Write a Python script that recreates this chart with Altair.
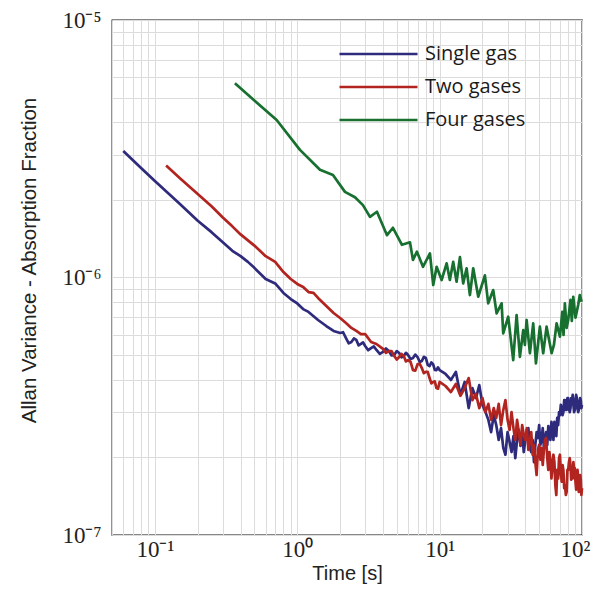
import altair as alt
import pandas as pd

# ---- data ----
t_single = [0.06, 0.08, 0.1, 0.15, 0.2, 0.25, 0.3, 0.35, 0.4, 0.45, 0.5, 0.6, 0.7, 0.8, 0.9,
            1.0, 1.1, 1.2, 1.4, 1.6, 1.8, 2.0, 2.1, 2.2, 2.3, 2.4, 2.5, 2.6, 2.7, 2.8, 2.9,
            3.0, 3.15, 3.3, 3.45, 3.6, 3.8, 4.0, 4.2, 4.4, 4.6, 4.8, 5.0, 5.2, 5.4, 5.6, 5.8,
            6.0, 6.25, 6.5, 6.75, 7.0, 7.25, 7.5, 7.75, 8.0, 8.25, 8.5, 8.75, 9.0, 9.25, 9.5,
            9.75]
v_single = [3.10e-6, 2.66e-6, 2.37e-6, 1.93e-6, 1.66e-6, 1.50e-6, 1.37e-6, 1.27e-6, 1.21e-6,
            1.15e-6, 1.09e-6, 9.87e-7, 9.48e-7, 8.71e-7, 8.25e-7, 7.93e-7, 7.54e-7, 7.35e-7,
            6.84e-7, 6.48e-7, 6.20e-7, 6.09e-7, 6.13e-7, 5.82e-7, 5.55e-7, 5.62e-7, 5.80e-7,
            5.72e-7, 5.45e-7, 5.52e-7, 5.60e-7, 5.42e-7, 5.22e-7, 5.32e-7, 5.40e-7, 5.23e-7,
            5.05e-7, 5.14e-7, 5.30e-7, 5.18e-7, 4.98e-7, 5.00e-7, 5.18e-7, 5.09e-7, 4.90e-7,
            4.96e-7, 5.10e-7, 5.00e-7, 4.82e-7, 4.87e-7, 5.02e-7, 4.91e-7, 4.70e-7, 4.74e-7,
            4.92e-7, 4.87e-7, 4.58e-7, 4.53e-7, 4.68e-7, 4.61e-7, 4.38e-7, 4.37e-7, 4.48e-7]
# one-second steps from 10 s to 100 s
v_single_tail = [4.37, 4.22, 4.00, 4.30, 3.50, 3.93, 3.11, 3.72, 3.40, 3.82,
                 3.20, 3.00, 2.80, 2.51, 2.92, 2.67, 2.34, 2.60, 2.18, 2.05,
                 2.51, 2.30, 2.10, 2.42, 1.99, 2.34, 2.56, 2.22, 2.51, 2.10,
                 2.34, 2.56, 2.60, 2.18, 2.10, 2.34, 1.92, 2.24, 2.51, 2.38,
                 2.67, 2.24, 2.34, 2.60, 2.18, 2.38, 2.51, 2.24, 2.65, 2.45,
                 2.34, 2.75, 2.60, 2.34, 2.75, 2.56, 2.42, 2.85, 2.67, 3.00,
                 2.92, 3.20, 3.11, 2.92, 3.00, 3.34, 3.34, 3.06, 3.06, 3.40,
                 3.40, 3.11, 3.00, 3.11, 3.40, 3.28, 3.50, 3.20, 3.00, 3.06,
                 3.34, 3.50, 3.40, 3.11, 3.00, 3.06, 3.28, 3.40, 3.34, 3.11,
                 3.20]  # x 1e-7

t_two = [0.12, 0.15, 0.2, 0.25, 0.3, 0.35, 0.4, 0.5, 0.6, 0.7, 0.8, 0.9, 1.0, 1.1, 1.2, 1.3,
         1.4, 1.6, 1.8, 2.0, 2.2, 2.4, 2.6, 2.8, 3.0, 3.3, 3.6, 4.0, 4.2, 4.4, 4.6, 4.8, 5.0,
         5.2, 5.4, 5.6, 5.8, 6.0, 6.25, 6.5, 6.75, 7.0, 7.25, 7.5, 7.75, 8.0, 8.25, 8.5,
         8.75, 9.0, 9.25, 9.5, 9.75]
v_two = [2.72e-6, 2.43e-6, 2.11e-6, 1.89e-6, 1.71e-6, 1.58e-6, 1.47e-6, 1.33e-6, 1.21e-6,
         1.15e-6, 1.05e-6, 9.87e-7, 9.44e-7, 9.19e-7, 8.78e-7, 8.71e-7, 8.33e-7, 7.75e-7,
         7.28e-7, 6.96e-7, 6.66e-7, 6.37e-7, 6.20e-7, 6.03e-7, 6.03e-7, 5.62e-7, 5.52e-7,
         5.28e-7, 5.10e-7, 5.18e-7, 5.18e-7, 4.96e-7, 4.80e-7, 4.91e-7, 5.05e-7, 4.96e-7,
         4.72e-7, 4.78e-7, 4.70e-7, 4.37e-7, 4.35e-7, 4.61e-7, 4.62e-7, 4.45e-7, 4.25e-7,
         4.30e-7, 4.30e-7, 4.07e-7, 3.88e-7, 3.93e-7, 3.95e-7, 3.72e-7, 3.70e-7]
v_two_tail = [3.93, 3.79, 3.59, 3.86, 3.47, 3.72, 4.07, 3.34, 3.53, 3.11,
              3.40, 3.00, 3.23, 2.80, 3.11, 2.85, 3.23, 2.67, 3.06, 3.34,
              2.80, 2.56, 3.00, 2.60, 2.34, 2.80, 2.51, 2.24, 2.67, 2.45,
              2.34, 2.60, 2.14, 2.34, 2.51, 2.05, 2.24, 1.92, 1.71, 2.14,
              2.24, 1.96, 2.18, 1.87, 2.14, 2.34, 2.38, 1.99, 1.79, 2.10,
              1.96, 1.66, 1.82, 2.05, 1.92, 1.56, 1.43, 1.79, 1.66, 1.99,
              2.05, 1.76, 1.61, 1.87, 1.79, 1.52, 1.56, 1.43, 1.47, 1.79,
              1.79, 1.92, 1.99, 1.87, 1.64, 1.76, 1.66, 1.92, 1.79, 1.82,
              1.61, 1.50, 1.56, 1.79, 1.66, 1.47, 1.56, 1.71, 1.64, 1.43,
              1.52]  # x 1e-7
t_tail = list(range(10, 101))

t_four = [0.365, 0.5, 0.717, 1.045, 1.444, 1.782, 2.164, 2.544, 2.894, 3.242, 3.63, 4.27,
          4.70, 5.44, 6.19, 6.50, 6.93, 7.64, 8.55, 9.02, 9.53, 10.33, 11.2, 11.8, 12.46,
          13.16, 13.89, 14.64, 15.47, 16.32, 17.22, 18.67, 20.8, 21.94, 23.79, 25.13, 27.25,
          27.97, 30.32, 32.87, 34.73, 36.64, 38.65, 39.7, 40.83, 43.06, 45.43, 47.47, 50.6,
          53.4, 56.4, 61.2, 63.5, 66.3, 70.0, 72.7, 74.2, 75.8, 78.0, 80.0, 83.0, 84.8, 86.8,
          90.0, 94.0, 96.5, 99.4]
v_four = [5.68e-6, 4.87e-6, 4.09e-6, 3.13e-6, 2.62e-6, 2.50e-6, 2.15e-6, 2.05e-6, 1.91e-6,
          1.72e-6, 1.80e-6, 1.46e-6, 1.56e-6, 1.34e-6, 1.37e-6, 1.17e-6, 1.26e-6, 1.10e-6,
          1.24e-6, 9.35e-7, 1.10e-6, 9.78e-7, 1.135e-6, 9.78e-7, 1.15e-6, 9.63e-7, 1.20e-6,
          9.49e-7, 1.086e-6, 8.55e-7, 1.086e-6, 8.42e-7, 1.02e-6, 7.94e-7, 8.94e-7, 7.26e-7,
          7.94e-7, 6.07e-7, 7.04e-7, 4.78e-7, 7.15e-7, 4.92e-7, 6.25e-7, 5.47e-7, 6.84e-7,
          5.08e-7, 6.64e-7, 4.64e-7, 6.44e-7, 5.08e-7, 6.44e-7, 5.08e-7, 5.47e-7, 6.64e-7,
          5.89e-7, 7.36e-7, 5.98e-7, 7.94e-7, 6.37e-7, 6.84e-7, 8.18e-7, 6.78e-7, 8.42e-7,
          6.98e-7, 7.82e-7, 8.55e-7, 8.05e-7]

series_names = ["Single gas", "Two gases", "Four gases"]
series_colors = ["#2e2a7c", "#b2241f", "#17702f"]

x_ticks = [0.05, 0.06, 0.07, 0.08, 0.09,
           0.1, 0.2, 0.3, 0.4, 0.5, 0.6, 0.7, 0.8, 0.9,
           1, 2, 3, 4, 5, 6, 7, 8, 9,
           10, 20, 30, 40, 50, 60, 70, 80, 90, 100]
y_ticks = [1e-7, 2e-7, 3e-7, 4e-7, 5e-7, 6e-7, 7e-7, 8e-7, 9e-7,
           1e-6, 2e-6, 3e-6, 4e-6, 5e-6, 6e-6, 7e-6, 8e-6, 9e-6, 1e-5]

rows = []
series_data = [
    (series_names[0], t_single + t_tail, v_single + [v * 1e-7 for v in v_single_tail]),
    (series_names[1], t_two + t_tail, v_two + [v * 1e-7 for v in v_two_tail]),
    (series_names[2], t_four, v_four),
]
for name, ts, vs in series_data:
    for t, v in zip(ts, vs):
        rows.append({"time": t, "value": v, "series": name})
df = pd.DataFrame(rows)

E = "round(log(datum.value)/LN10)"
POW = f"abs(log(datum.value)/LN10 - {E}) > 0.001"
x_label = (f"{POW} ? '' : ({E} == -1 ? '10⁻¹' : {E} == 0 ? '10⁰' : "
           f"{E} == 1 ? '10¹' : '10²')")
y_label = (f"{POW} ? '' : ({E} == -7 ? '10⁻⁷' : {E} == -6 ? '10⁻⁶' : '10⁻⁵')")

grid_color = "#dcdcdc"

chart = alt.Chart(df).mark_line(strokeWidth=2.7, strokeJoin="round").encode(
    x=alt.X("time:Q",
            scale=alt.Scale(type="log", domain=[0.05, 100], nice=False),
            axis=alt.Axis(values=x_ticks, labelExpr=x_label, grid=True,
                          gridColor=grid_color, gridWidth=1, ticks=False, domain=False,
                          labelFont="Liberation Serif", labelFontSize=23,
                          labelColor="#222222", labelPadding=3, labelFlush=True,
                          labelFlushOffset=8,
                          labelOverlap=False, title="Time [s]",
                          titleFont="Liberation Sans", titleFontSize=20,
                          titleFontWeight="normal", titleColor="#222222",
                          titleY=28, titleBaseline="top")),
    y=alt.Y("value:Q",
            scale=alt.Scale(type="log", domain=[1e-7, 1e-5], nice=False),
            axis=alt.Axis(values=y_ticks, labelExpr=y_label, grid=True,
                          gridColor=grid_color, gridWidth=1, ticks=False, domain=False,
                          labelFont="Liberation Serif", labelFontSize=23,
                          labelColor="#222222", labelPadding=11,
                          labelOverlap=False, labelBaseline="middle",
                          title="Allan Variance - Absorption Fraction",
                          titleFont="Liberation Sans", titleFontSize=20.5,
                          titleFontWeight="normal", titleColor="#222222",
                          titleX=-77, titleY=240, titleAngle=270, titleAlign="center",
                          titleBaseline="alphabetic")),
    color=alt.Color("series:N",
                    scale=alt.Scale(domain=series_names, range=series_colors),
                    legend=alt.Legend(orient="none", legendX=226, legendY=23, title=None,
                                      symbolType="stroke", symbolSize=6084,
                                      symbolStrokeWidth=2.6, clipHeight=22, rowPadding=11,
                                      labelFont="Open Sans", labelFontSize=20,
                                      labelOffset=6, labelColor="#1a1a1a", padding=0)),
).properties(
    width=470, height=515,
    autosize=alt.AutoSizeParams(type="none"),
    padding={"left": 104, "top": 12, "right": 10, "bottom": 60},
).configure_view(stroke="#111111", strokeWidth=1.3)

chart.save("out.html", embed_options={"renderer": "svg", "actions": False})
